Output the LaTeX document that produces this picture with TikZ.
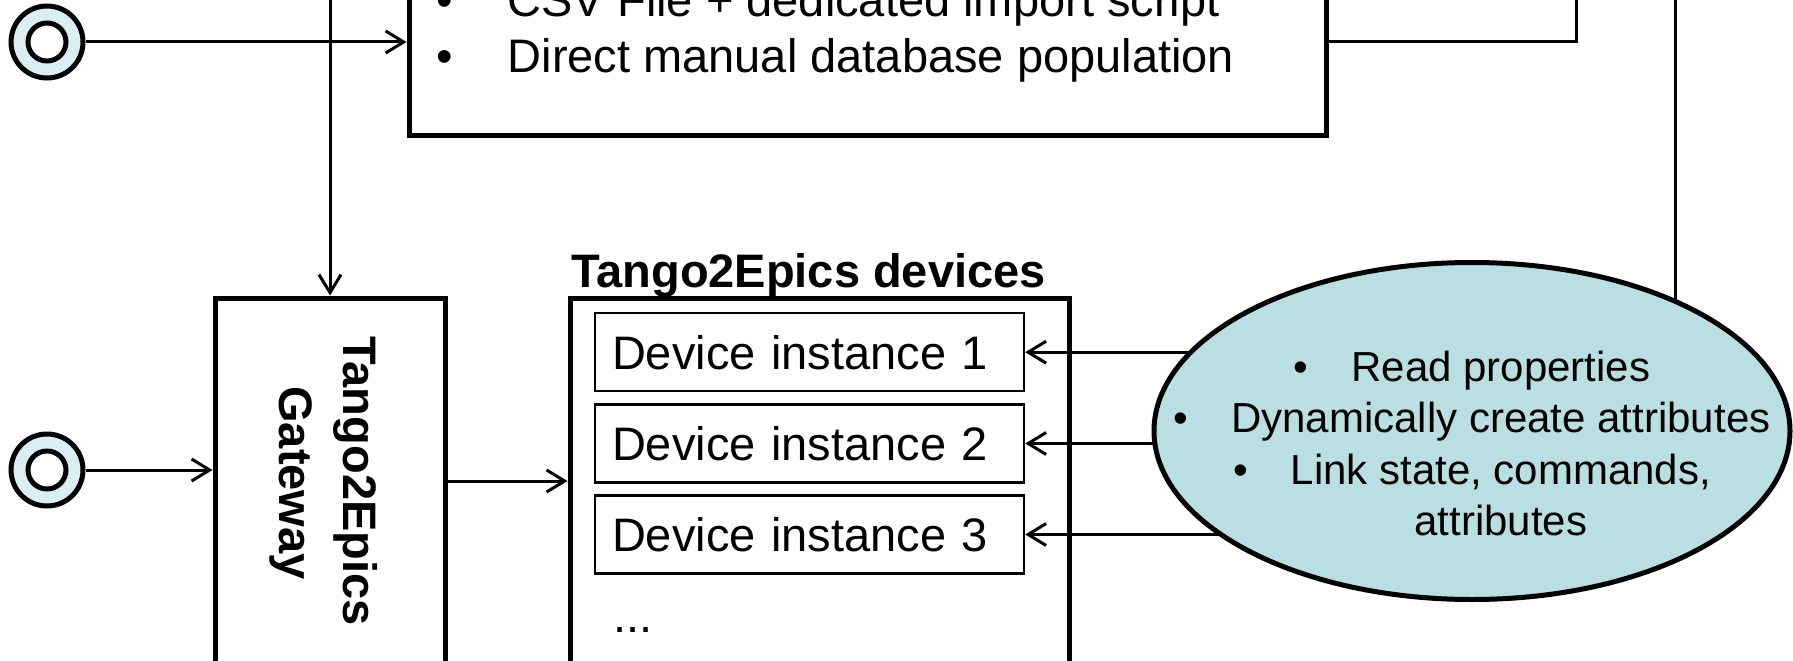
\documentclass[tikz,border=0pt]{standalone}
\usepackage{fontspec}
\setmainfont{Liberation Sans}
\usetikzlibrary{arrows.meta,shapes.geometric}
\definecolor{srcfill}{HTML}{DAEEF3}
\definecolor{ellfill}{HTML}{B9DFE3}
\begin{document}
\begin{tikzpicture}[x=1pt,y=-1pt,
  conn/.style={line width=3pt,-{Straight Barb[length=18pt,width=22pt]}},
  plainline/.style={line width=3pt},
  bigbox/.style={draw,line width=5pt,rectangle,inner sep=0pt},
  devbox/.style={draw,line width=2.5pt,rectangle,minimum width=429pt,minimum height=78pt,
    inner xsep=17pt,inner ysep=0pt,text width=395pt,align=left,font=\fontsize{47}{56}\selectfont},
  srcout/.style={draw,circle,line width=5pt,fill=srcfill,minimum size=72pt,inner sep=0pt},
  srcin/.style={draw,circle,line width=5pt,fill=white,minimum size=38pt,inner sep=0pt},
  bigtxt/.style={inner sep=0pt,font=\fontsize{47}{56}\selectfont},
  boldtxt/.style={inner sep=0pt,font=\fontsize{47}{56}\selectfont\bfseries},
  elltxt/.style={inner sep=0pt,anchor=base,font=\fontsize{42}{51}\selectfont}
]
\useasboundingbox (0,0) rectangle (1793,661);
\clip (0,0) rectangle (1793,661);

% source circles
\node[srcout] (src1) at (47,42) {};
\node[srcin] (src1in) at (src1.center) {};
\node[srcout] (src2) at (47,470) {};
\node[srcin] (src2in) at (src2.center) {};

% boxes
\node[bigbox,minimum width=917pt,minimum height=195pt] (topbox) at (867.5,37.5) {};
\node[bigbox,minimum width=230pt,minimum height=366pt] (gateway) at (330,481) {};
\node[bigbox,minimum width=499pt,minimum height=402pt] (devices) at (819.5,499) {};

% top box text
\node[bigtxt,anchor=base] (b1) at (445,17) {•};
\node[bigtxt,anchor=base west] (t1) at (507.5,17) {CSV File + dedicated import script};
\node[bigtxt,anchor=base] (b2) at (445,73) {•};
\node[bigtxt,anchor=base west] (t2) at (507.5,73) {Direct manual database population};

% gateway text
\node[boldtxt,rotate=-90,anchor=base] (gw1) at (343,481) {Tango2Epics};
\node[boldtxt,rotate=-90,anchor=base] (gw2) at (279,483) {Gateway};

% devices
\node[boldtxt,anchor=base west] (devtitle) at (571,287) {Tango2Epics devices};
\node[devbox] (dev1) at (809.5,352.2) {Device instance 1};
\node[devbox] (dev2) at (809.5,443.5) {Device instance 2};
\node[devbox] (dev3) at (809.5,534.5) {Device instance 3};
\node[bigtxt,anchor=base west] (dots) at (613,632) {...};

% connectors
\coordinate (topout) at (1576,-20);
\coordinate (gwin) at (330,-20);
\coordinate (ellin) at (1675,-20);
\coordinate (ellc) at (1472,431);

\draw[conn] (src1) -- (topbox.west |- src1);
\draw[plainline] (topbox.east |- src1) -| (topout);
\draw[conn] (gwin) -- (gateway.north);
\draw[conn] (src2) -- (gateway.west |- src2);
\draw[conn] (gateway.east) -- (devices.west |- gateway.east);

\draw[plainline] (ellin) -- (ellin |- ellc);
\draw[conn] (ellc |- dev1.east) -- (dev1.east);
\draw[conn] (ellc |- dev2.east) -- (dev2.east);
\draw[conn] (ellc |- dev3.east) -- (dev3.east);

% ellipse
\node[draw,ellipse,line width=5pt,fill=ellfill,minimum width=636pt,minimum height=337pt,inner sep=0pt] (ell) at (ellc) {};
\node[elltxt] (e1) at (1472,381) {•\hspace{43pt}Read properties};
\node[elltxt] (e2) at (1472,432.5) {•\hspace{43pt}Dynamically create attributes};
\node[elltxt] (e3) at (1472,484) {•\hspace{43pt}Link state, commands,};
\node[elltxt] (e4) at (1472,535) {\hspace*{57.7pt}attributes};
\end{tikzpicture}
\end{document}
